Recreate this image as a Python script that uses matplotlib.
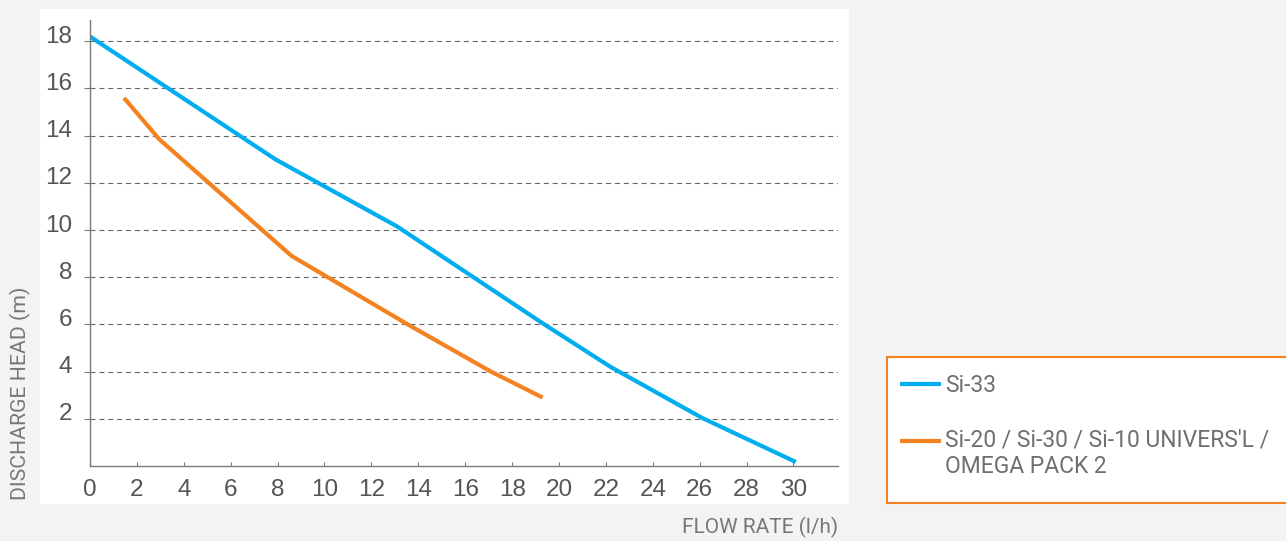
import matplotlib.pyplot as plt
import matplotlib.transforms as mtransforms
from matplotlib.patches import Rectangle
from matplotlib.legend_handler import HandlerLine2D

# curve data
si33_flow = [0, 7.9, 13.1, 19.3, 22.2, 26.1, 30.1]
si33_head = [18.2, 13.0, 10.15, 6.05, 4.2, 2.04, 0.17]

si20_flow = [1.45, 2.95, 8.6, 13.55, 17.1, 19.3]
si20_head = [15.6, 13.85, 8.9, 6.0, 4.0, 2.9]

x_ticks = list(range(0, 31, 2))
y_ticks = list(range(2, 19, 2))

label_si33 = "Si-33"
label_si20 = "Si-20 / Si-30 / Si-10 UNIVERS'L /\nOMEGA PACK 2"

BLUE = '#00aeef'
ORANGE = '#f58220'
BG = '#f2f3f5'
narrow = 'Roboto'

plt.rcParams['font.family'] = ['Liberation Sans', 'DejaVu Sans']


class TopLineHandler(HandlerLine2D):
    # put the handle next to the first text line, not the middle
    def __init__(self, shift=0, **kw):
        super().__init__(**kw)
        self.shift = shift

    def create_artists(self, legend, orig_handle, xdescent, ydescent,
                       width, height, fontsize, trans):
        arts = super().create_artists(legend, orig_handle, xdescent, ydescent,
                                      width, height, fontsize, trans)
        for a in arts:
            a.set_ydata([y + self.shift for y in a.get_ydata()])
        return arts


W, H = 1286, 541
fig = plt.figure(figsize=(W / 100, H / 100), dpi=100, facecolor=BG)

# white panel behind the plot
fig.patches.append(Rectangle((40 / W, 1 - 504 / H), (849 - 40) / W, (504 - 9) / H,
                             transform=fig.transFigure, facecolor='white',
                             edgecolor='none', zorder=-5))
# legend box
fig.patches.append(Rectangle((887 / W, 1 - 503 / H), 420 / W, (503 - 357) / H,
                             transform=fig.transFigure, facecolor='white',
                             edgecolor=ORANGE, lw=1.5, zorder=-5))

ax = fig.add_axes([90 / W, 1 - 466 / H, (838 - 90) / W, (466 - 20) / H])
ax.set_facecolor('none')

l1, = ax.plot(si33_flow, si33_head, color=BLUE, lw=3, label=label_si33,
              solid_capstyle='butt')
l2, = ax.plot(si20_flow, si20_head, color=ORANGE, lw=3, label=label_si20,
              solid_capstyle='butt')

ax.set_xlim(0, 31.9)
ax.set_ylim(0, 18.9)
ax.set_xticks(x_ticks)
ax.set_yticks(y_ticks)

for yv in y_ticks:
    ax.axhline(yv, color='#666666', lw=0.8, dashes=(4.5, 3.5), zorder=1)

for s in ['top', 'right']:
    ax.spines[s].set_visible(False)
for s in ['left', 'bottom']:
    ax.spines[s].set_color('#7a7a7a')
    ax.spines[s].set_linewidth(1)

ax.tick_params(axis='x', direction='in', length=3, color='#7a7a7a',
               labelsize=17.5, labelcolor='#555555', pad=9)
ax.tick_params(axis='y', direction='out', length=4, color='#7a7a7a',
               labelsize=17.5, labelcolor='#555555', pad=9)

# y labels sit a bit above their grid lines in the reference
off = mtransforms.ScaledTranslation(0, 7 / 100, fig.dpi_scale_trans)
for lab in ax.get_yticklabels():
    lab.set_transform(lab.get_transform() + off)

fig.text(20 / W, 1 - 500 / H, 'DISCHARGE HEAD (m)', rotation=90, ha='center',
         va='bottom', fontsize=15.3, color='#777777', family=narrow)
fig.text(838 / W, 1 - 527 / H, 'FLOW RATE (l/h)', ha='right', va='center',
         fontsize=15, color='#777777', family=narrow)

leg = fig.legend(handles=[l1, l2], loc='upper left',
                 bbox_to_anchor=(879 / W, 1 - 353 / H), borderaxespad=0,
                 frameon=False, handlelength=1.8, handletextpad=0.2,
                 labelspacing=1.4, borderpad=0.9,
                 handler_map={l2: TopLineHandler(shift=9.5)},
                 prop={'family': narrow, 'size': 16.5})
for t in leg.get_texts():
    t.set_color('#6f6f6f')

fig.savefig('out.png', dpi=100, facecolor=BG)
